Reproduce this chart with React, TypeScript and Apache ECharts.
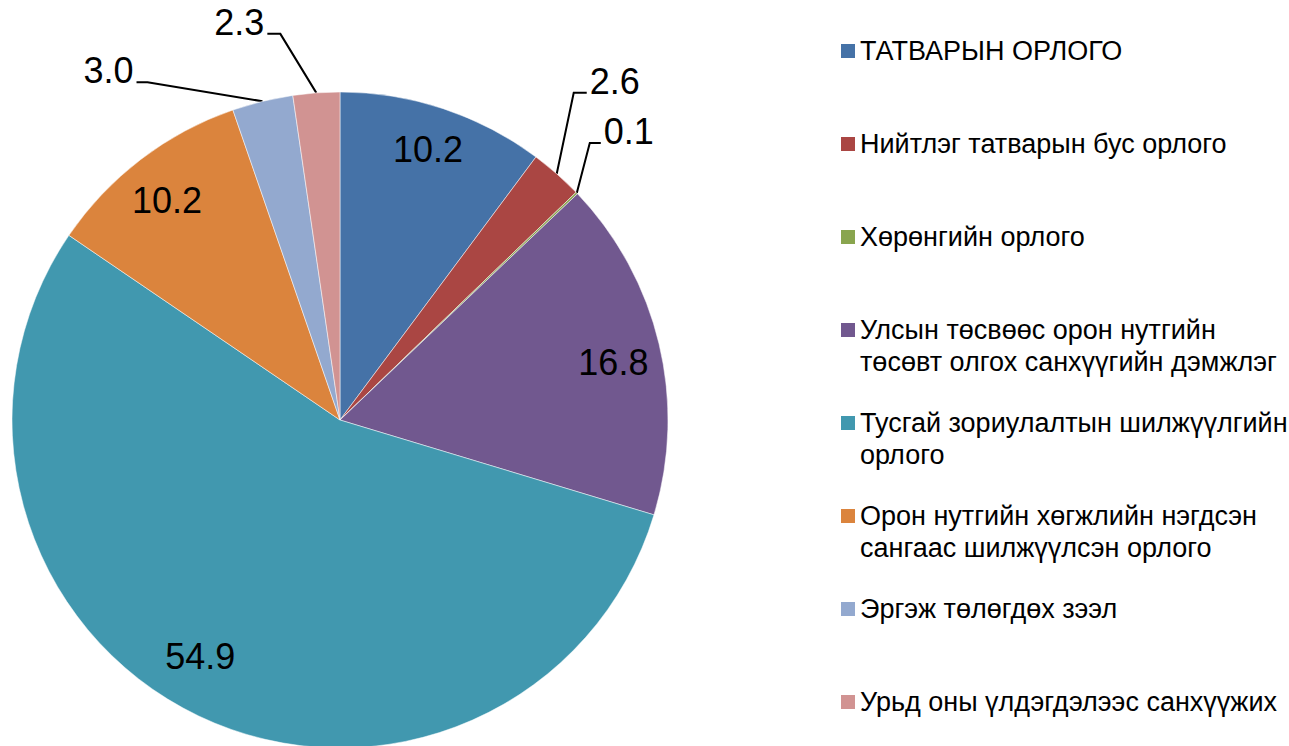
import React, { useEffect, useRef } from 'react';
import * as echarts from 'echarts';

// ---- data ----
const CATEGORIES: string[] = [
  'ТАТВАРЫН ОРЛОГО',
  'Нийтлэг татварын бус орлого',
  'Хөрөнгийн орлого',
  'Улсын төсвөөс орон нутгийн төсөвт олгох санхүүгийн дэмжлэг',
  'Тусгай зориулалтын шилжүүлгийн орлого',
  'Орон нутгийн хөгжлийн нэгдсэн сангаас шилжүүлсэн орлого',
  'Эргэж төлөгдөх зээл',
  'Урьд оны үлдэгдэлээс санхүүжих',
];
const LEGEND_LABELS: string[] = [
  'ТАТВАРЫН ОРЛОГО',
  'Нийтлэг татварын бус орлого',
  'Хөрөнгийн орлого',
  'Улсын төсвөөс орон нутгийн\nтөсөвт олгох санхүүгийн дэмжлэг',
  'Тусгай зориулалтын шилжүүлгийн\nорлого',
  'Орон нутгийн хөгжлийн нэгдсэн\nсангаас шилжүүлсэн орлого',
  'Эргэж төлөгдөх зээл',
  'Урьд оны үлдэгдэлээс санхүүжих',
];
const VALUES: number[] = [10.2, 2.6, 0.1, 16.8, 54.9, 10.2, 3.0, 2.3];
const LABEL_OUTSIDE: boolean[] = [false, true, true, false, false, false, true, true];

// ---- style ----
const COLORS = ['#4572A7', '#AA4643', '#89A54E', '#71588F', '#4198AF', '#DB843D', '#93A9CF', '#D19392'];
const FONT = '"Liberation Sans", Arial, Helvetica, sans-serif';
const CENTER = [340, 420];
const RADIUS = 328;
const INNER_LABEL_R0 = 226;
// leader line bend offset (from slice edge point) and horizontal segment length
const OUTER_LABEL_GUIDE: Record<number, { bend: [number, number]; len2: number }> = {
  1: { bend: [17, -81], len2: 13 },
  2: { bend: [13, -50], len2: 11 },
  6: { bend: [-115, -19], len2: 11 },
  7: { bend: [-36, -59], len2: 13 },
};
// small nudges of the inside labels
const INNER_LABEL_SHIFT: [number, number][] = [
  [0, -5], [0, 0], [0, 0], [1, 7], [-19, -16], [-3, 3], [0, 0], [0, 0],
];
const LEGEND_LEFT = 841;
const LEGEND_FIRST_CENTER = 51;
const LEGEND_STEP = 93;
const LEGEND_LINE_H = 32;
const LEGEND_MARK = 14;

export default function App() {
  const ref = useRef<HTMLDivElement>(null);

  useEffect(() => {
    if (!ref.current) return;
    const chart = echarts.init(ref.current, undefined, { renderer: 'svg' });

    const legends = CATEGORIES.map((name, i) => {
      const lines = LEGEND_LABELS[i].split('\n').length;
      // marker square sits beside the first text line; an empty extent below it
      // lets the multi-line text block start at the marker's line
      const extra = (lines - 1) * LEGEND_LINE_H;
      const h = LEGEND_MARK + extra;
      return {
        orient: 'vertical',
        left: LEGEND_LEFT,
        top: LEGEND_FIRST_CENTER + i * LEGEND_STEP - LEGEND_LINE_H / 2,
        padding: 0,
        itemWidth: LEGEND_MARK,
        itemHeight: h,
        itemGap: 0,
        icon:
          lines > 1
            ? `path://M0,0L${LEGEND_MARK},0L${LEGEND_MARK},${LEGEND_MARK}L0,${LEGEND_MARK}Z M0,${h} L0,${h}`
            : 'rect',
        itemStyle: { borderWidth: 0 },
        selectedMode: false,
        data: [name],
        formatter: () => LEGEND_LABELS[i],
        textStyle: {
          fontSize: 27,
          lineHeight: LEGEND_LINE_H,
          color: '#000',
          fontFamily: FONT,
        },
      };
    });

    const option: any = {
      animation: false,
      backgroundColor: '#fff',
      legend: legends,
      series: [
        {
          type: 'pie',
          center: CENTER,
          radius: [0, RADIUS],
          startAngle: 90,
          clockwise: true,
          avoidLabelOverlap: false,
          emphasis: { disabled: true },
          itemStyle: { borderColor: '#fff', borderWidth: 0.5 },
          label: {
            position: 'outside',
            fontSize: 36,
            color: '#000',
            fontFamily: FONT,
            formatter: (p: any) => Number(p.value).toFixed(1),
          },
          labelLine: { show: true, length: 10, length2: 10, lineStyle: { color: '#000', width: 2 } },
          labelLayout: (params: any) => {
            const g = OUTER_LABEL_GUIDE[params.dataIndex];
            const pts = params.labelLinePoints;
            if (!g || !pts || !pts[0]) return {};
            const p0 = pts[0];
            const bend = [p0[0] + g.bend[0], p0[1] + g.bend[1]];
            const dir = g.bend[0] >= 0 ? 1 : -1;
            const end = [bend[0] + dir * g.len2, bend[1]];
            return {
              x: end[0] + dir * 3,
              y: bend[1] - 11.5,
              align: dir > 0 ? 'left' : 'right',
              verticalAlign: 'middle',
              labelLinePoints: [p0, bend, end],
            };
          },
          data: CATEGORIES.map((name, i) => ({
            name,
            value: VALUES[i],
            itemStyle: { color: COLORS[i] },
            label: { show: LABEL_OUTSIDE[i] },
            labelLine: { show: LABEL_OUTSIDE[i] },
          })),
        },
        {
          type: 'pie',
          center: CENTER,
          radius: [INNER_LABEL_R0, RADIUS],
          startAngle: 90,
          clockwise: true,
          silent: true,
          avoidLabelOverlap: false,
          emphasis: { disabled: true },
          itemStyle: { color: 'rgba(0,0,0,0)', borderWidth: 0 },
          label: {
            position: 'inside',
            fontSize: 36,
            color: '#000',
            fontFamily: FONT,
            formatter: (p: any) => Number(p.value).toFixed(1),
          },
          labelLine: { show: false },
          labelLayout: (params: any) => {
            const s = INNER_LABEL_SHIFT[params.dataIndex];
            return s ? { dx: s[0], dy: s[1] } : {};
          },
          data: CATEGORIES.map((name, i) => ({
            name,
            value: VALUES[i],
            label: { show: !LABEL_OUTSIDE[i] },
          })),
        },
      ],
    };

    chart.setOption(option);
    return () => chart.dispose();
  }, []);

  return (
    <div
      ref={ref}
      style={{ position: 'absolute', left: 0, top: 0, width: 1289, height: 746 }}
    />
  );
}
